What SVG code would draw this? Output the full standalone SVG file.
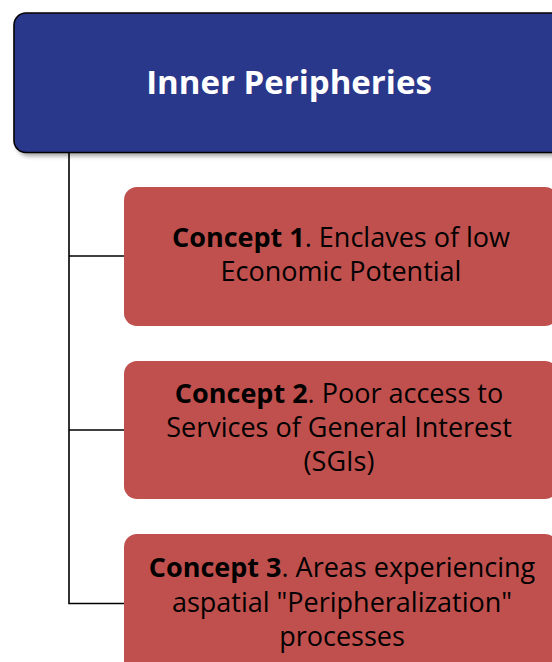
<svg xmlns="http://www.w3.org/2000/svg" width="552" height="662" viewBox="0 0 552 662">
  <defs>
    <filter id="shadow" x="-5%" y="-5%" width="115%" height="130%">
      <feDropShadow dx="3" dy="3" stdDeviation="2" flood-color="#000" flood-opacity="0.35"/>
    </filter>
  </defs>
  <style>
    .title { font-family: "Open Sans", "Liberation Sans", sans-serif; font-weight: bold; font-size: 33px; fill: #ffffff; text-anchor: middle; }
    .concept { fill: #C0504D; }
    .ctext { font-family: "Open Sans", "Liberation Sans", sans-serif; font-size: 27px; fill: #000000; text-anchor: middle; }
    .b { font-weight: bold; }
    .conn { stroke: #000; stroke-width: 1.6; fill: none; }
  </style>
  <rect width="552" height="662" fill="#ffffff"/>
  <g id="connectors">
    <path class="conn" d="M69,152 V603.5 H124"/>
    <path class="conn" d="M69,256 H124"/>
    <path class="conn" d="M69,430 H124"/>
  </g>
  <g id="inner-peripheries">
    <rect x="14" y="13" width="550" height="139.5" rx="12" ry="12" fill="#2B388B" stroke="#000" stroke-width="1.6" filter="url(#shadow)"/>
    <text class="title" x="289" y="94">Inner Peripheries</text>
  </g>
  <g id="concept1">
    <rect class="concept" x="124" y="187" width="434" height="139" rx="13" ry="13"/>
    <text class="ctext" x="341" y="247"><tspan class="b">Concept 1</tspan>. Enclaves of low</text>
    <text class="ctext" x="341" y="281">Economic Potential</text>
  </g>
  <g id="concept2">
    <rect class="concept" x="124" y="361" width="434" height="138" rx="13" ry="13"/>
    <text class="ctext" x="339" y="403"><tspan class="b">Concept 2</tspan>. Poor access to</text>
    <text class="ctext" x="339" y="437">Services of General Interest</text>
    <text class="ctext" x="339" y="471">(SGIs)</text>
  </g>
  <g id="concept3">
    <rect class="concept" x="124" y="534" width="434" height="140" rx="13" ry="13"/>
    <text class="ctext" x="342" y="577"><tspan class="b">Concept 3</tspan>. Areas experiencing</text>
    <text class="ctext" x="342" y="612">aspatial "Peripheralization"</text>
    <text class="ctext" x="342" y="646">processes</text>
  </g>
</svg>
